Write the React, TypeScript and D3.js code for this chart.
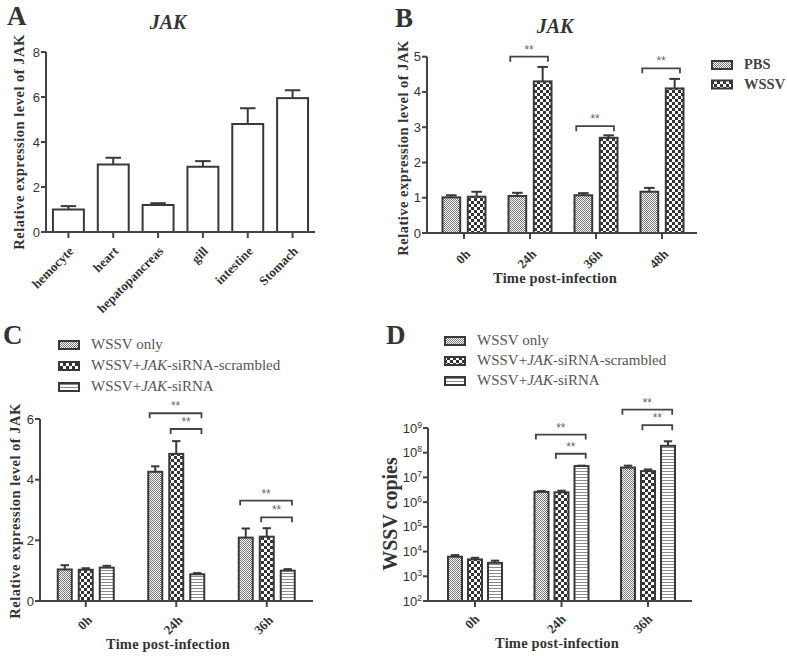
import React from "react";
import * as d3 from "d3";

// ---------- Panel A ----------
const tissues = ["hemocyte", "heart", "hepatopancreas", "gill", "intestine", "Stomach"];
const tissueMean = [1.0, 3.0, 1.2, 2.9, 4.8, 5.95];
const tissueErr = [0.15, 0.3, 0.08, 0.25, 0.7, 0.35];
const yTicksA = [0, 2, 4, 6, 8];

// ---------- Panel B ----------
const timesB = ["0h", "24h", "36h", "48h"];
const seriesB = ["PBS", "WSSV"];
const pbsMean = [1.01, 1.05, 1.07, 1.17];
const pbsErr = [0.06, 0.09, 0.06, 0.11];
const wssvMean = [1.03, 4.3, 2.7, 4.1];
const wssvErr = [0.14, 0.41, 0.07, 0.27];
const yTicksB = [0, 1, 2, 3, 4, 5];
const bracketsB = [
  { group: "24h", from: 0, to: 1, y: 5.0 },
  { group: "36h", from: 0, to: 1, y: 3.03 },
  { group: "48h", from: 0, to: 1, y: 4.67 },
];

// ---------- Panel C ----------
const timesCD = ["0h", "24h", "36h"];
const seriesCD = ["WSSV only", "WSSV+JAK-siRNA-scrambled", "WSSV+JAK-siRNA"];
const onlyC = [1.04, 4.26, 2.09];
const onlyCErr = [0.14, 0.18, 0.3];
const scrC = [1.03, 4.85, 2.12];
const scrCErr = [0.05, 0.42, 0.28];
const siC = [1.1, 0.88, 1.0];
const siCErr = [0.06, 0.04, 0.05];
const yTicksC = [0, 2, 4, 6];
const bracketsC = [
  { group: "24h", from: 0, to: 2, y: 6.19 },
  { group: "24h", from: 1, to: 2, y: 5.67 },
  { group: "36h", from: 0, to: 2, y: 3.31 },
  { group: "36h", from: 1, to: 2, y: 2.76 },
];

// ---------- Panel D ----------
const onlyD = [6.2e3, 2.6e6, 2.5e7];
const onlyDErr = [1.0e3, 0.2e6, 0.5e7];
const scrD = [4.8e3, 2.5e6, 1.8e7];
const scrDErr = [0.8e3, 0.4e6, 0.3e7];
const siD = [3.5e3, 2.9e7, 1.9e8];
const siDErr = [0.8e3, 0.1e7, 1.0e8];
const yExpD = [2, 3, 4, 5, 6, 7, 8, 9];
const bracketsD = [
  { group: "24h", from: 0, to: 2, y: 5.4e8 },
  { group: "24h", from: 1, to: 2, y: 9.1e7 },
  { group: "36h", from: 0, to: 2, y: 5.5e9 },
  { group: "36h", from: 1, to: 2, y: 1.3e9 },
];

const SERIF = "'Liberation Serif', 'Times New Roman', serif";
const SANS = "'Liberation Sans', Arial, sans-serif";
const AX = "#444";
const BAR = "#383838";

function withItalicJAK(s: string) {
  const i = s.indexOf("JAK");
  if (i < 0) return s;
  return (
    <>
      {s.slice(0, i)}
      <tspan fontStyle="italic">JAK</tspan>
      {s.slice(i + 3)}
    </>
  );
}

type Bracket = { group: string; from: number; to: number; y: number };

function Grouped(props: {
  groups: string[];
  series: string[];
  values: number[][];
  errs: number[][];
  fills: string[];
  x: d3.ScaleBand<string>;
  inner: d3.ScaleBand<string>;
  y: any;
  brackets: Bracket[];
}) {
  const { groups, series, values, errs, fills, x, inner, y, brackets } = props;
  const bw = inner.bandwidth();
  const y0 = y.range()[0];
  const cx = (g: string) => (x(g) as number) + x.bandwidth() / 2;
  const barX = (g: string, si: number) => cx(g) + (inner(series[si]) as number);
  return (
    <g>
      {series.map((s, si) =>
        groups.map((g, gi) => {
          const v = values[si][gi];
          const e = errs[si][gi];
          const bx = barX(g, si);
          const top = y(v);
          const et = y(v + e);
          const mid = bx + bw / 2;
          const cap = bw * 0.3;
          return (
            <g key={s + g}>
              <line x1={mid} x2={mid} y1={top} y2={et} stroke={BAR} strokeWidth={2} />
              <line x1={mid - cap} x2={mid + cap} y1={et} y2={et} stroke={BAR} strokeWidth={2} />
              <rect x={bx} y={top} width={bw} height={y0 - top} fill={fills[si]} stroke={BAR} strokeWidth={2} />
            </g>
          );
        })
      )}
      {brackets.map((b, i) => {
        const x1 = barX(b.group, b.from) + bw * 0.1;
        const x2 = barX(b.group, b.to) + bw * 0.8;
        const yy = y(b.y);
        return (
          <g key={"br" + i}>
            <path d={`M${x1},${yy + 5}V${yy}H${x2}V${yy + 5}`} fill="none" stroke={AX} strokeWidth={1.8} />
            <text x={(x1 + x2) / 2} y={yy - 3} textAnchor="middle" fontFamily={SANS} fontSize={12} fill="#666">
              **
            </text>
          </g>
        );
      })}
    </g>
  );
}

function XAxis(props: { x: d3.ScaleBand<string>; x0: number; x1: number; y: number; labels: string[]; dx: number; dy: number }) {
  const { x, x0, x1, y, labels, dx, dy } = props;
  return (
    <g>
      <line x1={x0} x2={x1} y1={y} y2={y} stroke={AX} strokeWidth={2} />
      {labels.map((l) => {
        const cx = (x(l) as number) + x.bandwidth() / 2;
        return (
          <g key={l}>
            <line x1={cx} x2={cx} y1={y} y2={y + 6} stroke={AX} strokeWidth={2} />
            <text
              transform={`translate(${cx + dx},${y + dy}) rotate(-45)`}
              textAnchor="end"
              fontFamily={SERIF}
              fontWeight="bold"
              fontSize={13}
              fill="#333"
            >
              {l}
            </text>
          </g>
        );
      })}
    </g>
  );
}

function YAxis(props: { y: any; x: number; ticks: number[]; fmt?: (t: number) => any }) {
  const { y, x, ticks, fmt } = props;
  const r = y.range();
  return (
    <g>
      <line x1={x} x2={x} y1={r[0] + 1} y2={r[1]} stroke={AX} strokeWidth={2} />
      {ticks.map((t) => (
        <g key={t}>
          <line x1={x - 5} x2={x} y1={y(t)} y2={y(t)} stroke={AX} strokeWidth={2} />
          <text x={x - 6} y={y(t) + 4.5} textAnchor="end" fontFamily={SANS} fontSize={13} fill="#333">
            {fmt ? fmt(t) : t}
          </text>
        </g>
      ))}
    </g>
  );
}

function Legend(props: { x: number; y: number; dy: number; names: string[]; fills: string[]; size: number; bold?: boolean; color: string }) {
  const { x, y, dy, names, fills, size, bold, color } = props;
  return (
    <g>
      {names.map((n, i) => (
        <g key={n}>
          <rect x={x} y={y + i * dy} width={20} height={8} fill={fills[i]} stroke={BAR} strokeWidth={2} />
          <text x={x + 32} y={y + i * dy + 8} fontFamily={SERIF} fontSize={size} fontWeight={bold ? "bold" : "normal"} fill={color}>
            {withItalicJAK(n)}
          </text>
        </g>
      ))}
    </g>
  );
}

const yLabelStyle = { letterSpacing: "0.5px" } as const;
const xTitleStyle = { letterSpacing: "0.2px" } as const;

export default function App() {
  // Panel A scales
  const xA = d3.scaleBand<string>().domain(tissues).range([46, 315]).paddingInner(0.31).paddingOuter(0.155);
  const yA = d3.scaleLinear().domain([0, 8]).range([232, 52]);
  const bwA = xA.bandwidth();

  // Panel B scales
  const xB = d3.scaleBand<string>().domain(timesB).range([431, 695]);
  const inB = d3.scaleBand<string>().domain(seriesB).range([-21.5, 21.5]).paddingInner(0.3).paddingOuter(0);
  const yB = d3.scaleLinear().domain([0, 5]).range([233, 56.7]);

  // Panel C scales
  const xC = d3.scaleBand<string>().domain(timesCD).range([40.5, 312]);
  const inC = d3.scaleBand<string>().domain(seriesCD).range([-28, 28]).paddingInner(1 / 3).paddingOuter(0);
  const yC = d3.scaleLinear().domain([0, 6]).range([601, 419]);

  // Panel D scales
  const xD = d3.scaleBand<string>().domain(timesCD).range([431.75, 691.25]);
  const inD = d3.scaleBand<string>().domain(seriesCD).range([-27, 27]).paddingInner(0.3).paddingOuter(0);
  const yD = d3.scaleLog().domain([1e2, 1e9]).range([601, 428]);

  const fills3 = ["url(#pDots)", "url(#pCheck)", "url(#pStripe)"];
  const fills2 = ["url(#pDots)", "url(#pCheck)"];

  return (
    <svg width={787} height={656} style={{ position: "absolute", left: 0, top: 0, background: "#fff" }}>
      <defs>
        <pattern id="pDots" width={2} height={2} patternUnits="userSpaceOnUse">
          <rect width={2} height={2} fill="#fff" />
          <rect width={1} height={1} fill="#777" />
          <rect x={1} y={1} width={1} height={1} fill="#777" />
        </pattern>
        <pattern id="pCheck" width={6} height={6} patternUnits="userSpaceOnUse">
          <rect width={6} height={6} fill="#fff" />
          <rect width={3} height={3} fill="#333" />
          <rect x={3} y={3} width={3} height={3} fill="#333" />
        </pattern>
        <pattern id="pStripe" width={3} height={3} patternUnits="userSpaceOnUse">
          <rect width={3} height={3} fill="#fff" />
          <rect y={0} width={3} height={1} fill="#8a8a8a" />
        </pattern>
      </defs>

      {/* ===== Panel A ===== */}
      <text x={7} y={25} fontFamily={SERIF} fontWeight="bold" fontSize={27} fill="#333">A</text>
      <text x={168} y={29} textAnchor="middle" fontFamily={SERIF} fontWeight="bold" fontStyle="italic" fontSize={20} fill="#333">JAK</text>
      <text transform="translate(24,142) rotate(-90)" textAnchor="middle" fontFamily={SERIF} fontWeight="bold" fontSize={14.5} fill="#333" style={yLabelStyle}>
        Relative expression level of JAK
      </text>
      {tissues.map((t, i) => {
        const bx = xA(t) as number;
        const top = yA(tissueMean[i]);
        const et = yA(tissueMean[i] + tissueErr[i]);
        const mid = bx + bwA / 2;
        return (
          <g key={t}>
            <line x1={mid} x2={mid} y1={top} y2={et} stroke={BAR} strokeWidth={2} />
            <line x1={mid - bwA * 0.25} x2={mid + bwA * 0.25} y1={et} y2={et} stroke={BAR} strokeWidth={2} />
            <rect x={bx} y={top} width={bwA} height={yA(0) - top} fill="#fff" stroke={BAR} strokeWidth={2} />
          </g>
        );
      })}
      <YAxis y={yA} x={46} ticks={yTicksA} />
      <XAxis x={xA} x0={46} x1={315} y={232} labels={tissues} dx={6} dy={20} />

      {/* ===== Panel B ===== */}
      <text x={395} y={27} fontFamily={SERIF} fontWeight="bold" fontSize={27} fill="#333">B</text>
      <text x={555} y={33} textAnchor="middle" fontFamily={SERIF} fontWeight="bold" fontStyle="italic" fontSize={20} fill="#333">JAK</text>
      <text transform="translate(408,148) rotate(-90)" textAnchor="middle" fontFamily={SERIF} fontWeight="bold" fontSize={14.5} fill="#333" style={yLabelStyle}>
        Relative expression level of JAK
      </text>
      <Grouped
        groups={timesB}
        series={seriesB}
        values={[pbsMean, wssvMean]}
        errs={[pbsErr, wssvErr]}
        fills={fills2}
        x={xB}
        inner={inB}
        y={yB}
        brackets={bracketsB}
      />
      <YAxis y={yB} x={427} ticks={yTicksB} />
      <XAxis x={xB} x0={427} x1={697} y={233} labels={timesB} dx={7} dy={22} />
      <text x={555} y={283} textAnchor="middle" fontFamily={SERIF} fontWeight="bold" fontSize={14.5} fill="#333" style={xTitleStyle}>Time post-infection</text>
      <Legend x={712} y={61} dy={19.5} names={seriesB} fills={fills2} size={14.5} bold color="#444" />

      {/* ===== Panel C ===== */}
      <text x={3} y={344} fontFamily={SERIF} fontWeight="bold" fontSize={27} fill="#333">C</text>
      <Legend x={59} y={341} dy={21} names={seriesCD} fills={fills3} size={15} color="#555" />
      <text transform="translate(20,511) rotate(-90)" textAnchor="middle" fontFamily={SERIF} fontWeight="bold" fontSize={14.5} fill="#333" style={yLabelStyle}>
        Relative expression level of JAK
      </text>
      <Grouped
        groups={timesCD}
        series={seriesCD}
        values={[onlyC, scrC, siC]}
        errs={[onlyCErr, scrCErr, siCErr]}
        fills={fills3}
        x={xC}
        inner={inC}
        y={yC}
        brackets={bracketsC}
      />
      <YAxis y={yC} x={40} ticks={yTicksC} />
      <XAxis x={xC} x0={40} x1={313} y={601} labels={timesCD} dx={7} dy={20} />
      <text x={168} y={649} textAnchor="middle" fontFamily={SERIF} fontWeight="bold" fontSize={14.5} fill="#333" style={xTitleStyle}>Time post-infection</text>

      {/* ===== Panel D ===== */}
      <text x={386} y={344} fontFamily={SERIF} fontWeight="bold" fontSize={27} fill="#333">D</text>
      <Legend x={445} y={337} dy={20} names={seriesCD} fills={fills3} size={15} color="#555" />
      <text transform="translate(397,514) rotate(-90)" textAnchor="middle" fontFamily={SERIF} fontWeight="bold" fontSize={20} fill="#333">
        WSSV copies
      </text>
      <Grouped
        groups={timesCD}
        series={seriesCD}
        values={[onlyD, scrD, siD]}
        errs={[onlyDErr, scrDErr, siDErr]}
        fills={fills3}
        x={xD}
        inner={inD}
        y={yD}
        brackets={bracketsD}
      />
      <YAxis
        y={yD}
        x={428}
        ticks={yExpD.map((e) => Math.pow(10, e))}
        fmt={(t) => (
          <>
            10<tspan fontSize={8.5} dy={-5}>{Math.round(Math.log10(t))}</tspan>
          </>
        )}
      />
      <XAxis x={xD} x0={428} x1={692} y={601} labels={timesCD} dx={5} dy={19} />
      <text x={557} y={648} textAnchor="middle" fontFamily={SERIF} fontWeight="bold" fontSize={14.5} fill="#333" style={xTitleStyle}>Time post-infection</text>
    </svg>
  );
}
